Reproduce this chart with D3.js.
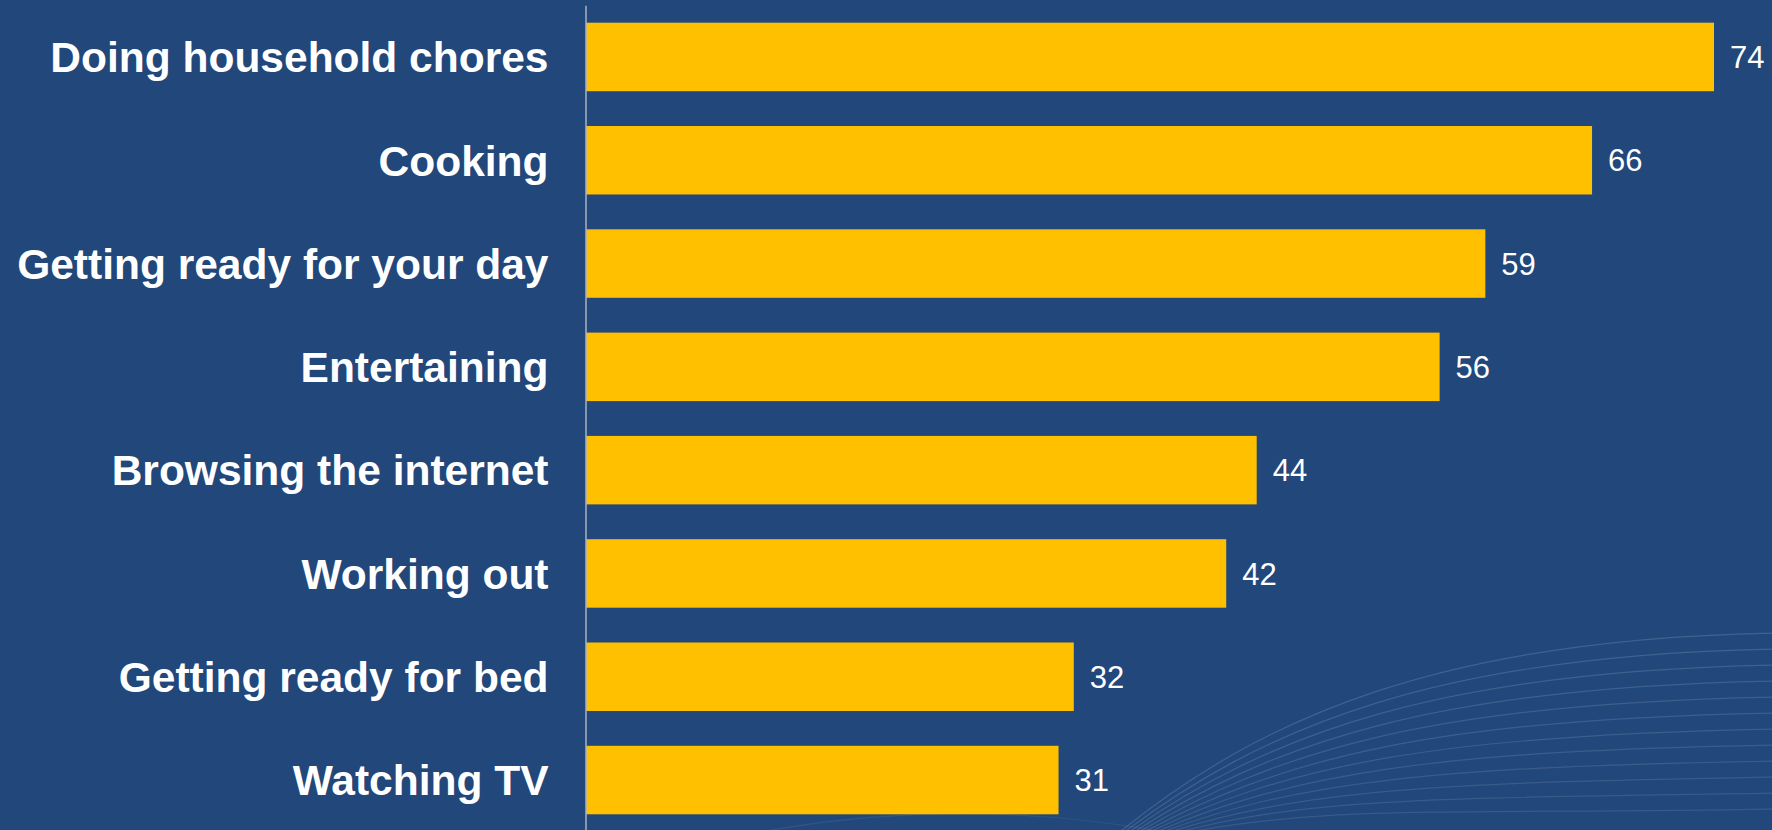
<!DOCTYPE html>
<meta charset="utf-8">
<style>
body { margin: 0; background: #21477b; }
svg { display: block; }
.axis .domain { stroke: #a9b2c0; stroke-width: 1.5; }
.axis text { font-family: 'Liberation Sans', Arial, sans-serif; font-weight: bold; font-size: 42.5px; fill: #fff; }
.value { font-family: 'Liberation Sans', Arial, sans-serif; font-size: 31px; fill: #fff; }
</style>
<svg width="1772" height="830"></svg>
<script src="https://cdnjs.cloudflare.com/ajax/libs/d3/7.8.5/d3.min.js"></script>
<script>
// data
var activities = ["Doing household chores", "Cooking", "Getting ready for your day", "Entertaining",
                  "Browsing the internet", "Working out", "Getting ready for bed", "Watching TV"];
var values = [74, 66, 59, 56, 44, 42, 32, 31];

var data = activities.map(function(d, i) { return {name: d, value: values[i]}; });

var svg = d3.select("svg");

svg.append("rect")
    .attr("width", 1772)
    .attr("height", 830)
    .attr("fill", "#21477b");

// faint decorative swoosh lines, bottom right
var deco = svg.append("g")
    .attr("fill", "none")
    .attr("stroke", "#fff")
    .attr("stroke-width", 1.2);
for (var i = 0; i < 12; i++) {
  var sx = 1110 + i * 4, sy = 840,
      ex = 1775, ey = 633 + i * 16;
  deco.append("path")
      .attr("stroke-opacity", 0.15 - i * 0.004)
      .attr("d", "M" + sx + "," + sy +
                 " C" + (sx + 150) + "," + (sy - 125 + i * 8) +
                 " " + (ex - 330) + "," + (ey + 6) +
                 " " + ex + "," + ey);
}
// faint arc near the bottom
svg.append("path")
    .attr("fill", "none")
    .attr("stroke", "#fff")
    .attr("stroke-opacity", 0.07)
    .attr("stroke-width", 1.2)
    .attr("d", "M720,840 Q950,790 1180,835");

var x = d3.scaleLinear()
    .domain([0, 74])
    .range([586, 1714]);

var y = d3.scaleBand()
    .domain(activities)
    .range([5.3, 831.7])
    .paddingInner(0.337)
    .paddingOuter(0.1685);

svg.selectAll("rect.bar")
    .data(data)
    .enter().append("rect")
      .attr("class", "bar")
      .attr("x", x(0))
      .attr("y", function(d) { return y(d.name); })
      .attr("width", function(d) { return x(d.value) - x(0); })
      .attr("height", y.bandwidth())
      .attr("fill", "#ffc000");

svg.selectAll("text.value")
    .data(data)
    .enter().append("text")
      .attr("class", "value")
      .attr("x", function(d) { return x(d.value) + 16; })
      .attr("y", function(d) { return y(d.name) + y.bandwidth() / 2; })
      .attr("dy", "0.36em")
      .text(function(d) { return d.value; });

svg.append("g")
    .attr("class", "axis")
    .attr("transform", "translate(585.5,0)")
    .call(d3.axisLeft(y).tickSizeInner(0).tickSizeOuter(0).tickPadding(37))
    .selectAll("text")
      .attr("dy", "0.36em");
</script>
